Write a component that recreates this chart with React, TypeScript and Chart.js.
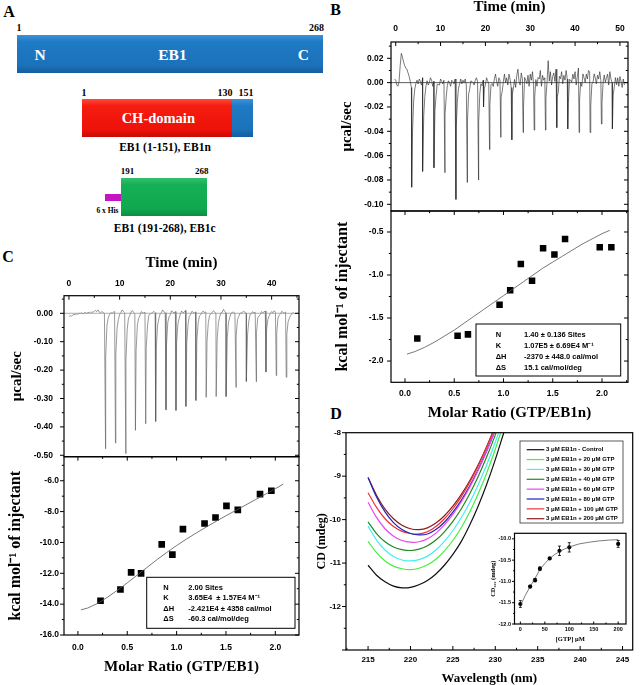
import React, { useEffect, useRef } from 'react';
import { Chart, registerables } from 'chart.js';
Chart.register(...registerables);

const SERIF = "'Liberation Serif', 'Times New Roman', serif";
const SANS = "'Liberation Sans', Arial, sans-serif";

// ---------- Panel B : raw ITC trace (GTP -> EB1n) ----------
const bNoiseT0 = -0.25;
const bNoiseDt = 0.25;
// baseline in 0.001 µcal/sec
const bNoise = [
  3, 2, -2, -3, 1, 14, 24, 21, 17, 14, 12, 11, 8, 5, 1, -4, -6, -3, -1, 1,
  2, -1, 3, 1, -2, 4, 2, -1, 1, 3, -2, 0, 4, 2, -3, 1, 5, -1, 2, 0,
  -2, 3, 1, -1, 2, 4, -2, 1, 3, 0, -3, 2, 1, -1, 3, 2, -2, 0, 1, 3,
  -1, 2, 0, 3, -2, 1, 2, -1, 3, 1, 0, -2, 2, 4, 1, -1, 2, 3, -1, 2,
  3, 1, 5, 2, -1, 4, 6, 2, -2, 3, 7, 1, -3, 4, 2, 6, -1, 3, 8, 0,
  4, -2, 7, 3, -4, 9, 2, 5, -3, 6, 11, 1, -2, 8, 3, -4, 10, 4, 0, 6,
  -3, 7, 2, 9, -2, 4, 8, -1, 5, 3, 10, -3, 6, 2, 4, 3, 6, 20, 2, 9,
  -2, 5, 8, 1, 11, 3, -3, 7, 4, 9, -1, 6, 2, 10, 3, -2, 8, 4, 1, 7,
  3, 9, -2, 5, 12, 2, 6, -1, 8, 4, 0, 7, 3, 10, 9, -2, 5, 2, 8, 4,
  -1, 6, 3, 9, 2, -3, 5, 8, 1, 4, 7, -2, 9, 3, 0, 5, 2, 6, -1, 4,
  -3, 5, 1, -4, 3, -2,
];
const bInjTimes = [3.56, 6.0, 8.53, 10.98, 13.43, 15.95, 18.48, 19.59, 20.93, 23.45, 25.9, 28.42, 30.88, 33.4, 35.92, 38.37, 40.9, 43.35, 45.87, 48.32];
const bInjPeaks = [-0.086, -0.073, -0.07, -0.074, -0.096, -0.082, -0.08, -0.02, -0.055, -0.045, -0.047, -0.041, -0.039, -0.039, -0.037, -0.038, -0.041, -0.041, -0.034, -0.038];
const bSpikeShape = [0.4, 0.14, 0.05, 0.02];

// ---------- Panel B : integrated heats ----------
const bRatio = [0.125, 0.534, 0.639, 0.96, 1.068, 1.176, 1.29, 1.402, 1.517, 1.625, 1.977, 2.095];
const bHeat = [-1.737, -1.706, -1.69, -1.347, -1.176, -0.871, -1.068, -0.689, -0.762, -0.581, -0.677, -0.677];
const bFitRatio = [0.02, 0.1, 0.2, 0.3, 0.4, 0.5, 0.6, 0.7, 0.8, 0.9, 1.0, 1.1, 1.2, 1.3, 1.4, 1.5, 1.6, 1.7, 1.8, 1.9, 2.0, 2.08];
const bFitHeat = [-1.92, -1.89, -1.84, -1.78, -1.71, -1.64, -1.56, -1.48, -1.4, -1.32, -1.24, -1.16, -1.08, -1.0, -0.92, -0.85, -0.78, -0.71, -0.64, -0.58, -0.52, -0.48];
const bParams = [
  ['N', '1.40 \u00b1 0.136 Sites'],
  ['K', '1.07E5 \u00b1 6.69E4 M\u207b\u00b9'],
  ['\u0394H', '-2370 \u00b1 448.0 cal/mol'],
  ['\u0394S', '15.1 cal/mol/deg'],
];

// ---------- Panel C : raw ITC trace (GTP -> EB1) ----------
const cNoiseT0 = 0;
const cNoiseDt = 0.25;
const cNoise = [
  -12, -8, -10, -6, -4, -5, -2, -3, 0, -1, 2, -2, 1, 3, 0, 2, 4, 1, 5, 3,
  8, 10, 6, 12, 4, 2, 6, 3, 0, 4, 15, 8, 5, 2, 0, 4, 6, 10, 3, 1,
  5, 3, 12, 6, 2, 0, 4, 8, 2, 5, 10, 3, -2, 4, 8, 2, 0, 6, 3, 1,
  4, 8, 2, 12, 5, 0, 3, 7, 2, 10, 4, 1, 6, 3, 12, 5, 2, 0, 8, 4,
  2, 9, 4, 1, 6, 11, 3, 0, 5, 8, 2, 4, 10, 3, 1, 6, 2, 7, 4, 0,
  5, 9, 3, 6, 1, 4, 8, 2, 5, 0, 3, 7, 4, 2, 9, 5, 1, 6, 3, 2,
  8, 4, 14, 6, 2, 12, 5, 1, 7, 3, 4, 0, 6, 9, 2, 5, 1, 4, 7, 3,
  0, 5, 2, 8, 3, 6, 1, 4, 9, 12, 3, 0, 6, 2, 5, 8, 10, 3, 1, 4,
  6, 2, 9, 4, 1, 10, 5, 2, 7, 3, 0, 5, 2, -3, -6, -4, 0, 2, -1,
];
const cInjTimes = [7.22, 9.18, 11.22, 13.12, 15.15, 17.11, 19.15, 21.12, 23.08, 25.05, 27.08, 29.05, 31.01, 32.98, 35.01, 36.98, 38.88, 40.91, 42.88];
const cInjPeaks = [-0.477, -0.457, -0.494, -0.412, -0.389, -0.381, -0.34, -0.342, -0.328, -0.307, -0.296, -0.293, -0.293, -0.261, -0.24, -0.241, -0.207, -0.219, -0.225];
const cSpikeShape = [0.33, 0.12, 0.05, 0.02];

// ---------- Panel C : integrated heats ----------
const cRatio = [0.229, 0.431, 0.539, 0.64, 0.849, 0.957, 1.064, 1.283, 1.394, 1.505, 1.62, 1.845, 1.96];
const cHeat = [-13.78, -13.05, -11.94, -12.0, -10.12, -10.79, -9.14, -8.77, -8.38, -7.63, -7.89, -6.87, -6.65];
const cFitRatio = [0.03, 0.1, 0.2, 0.3, 0.4, 0.5, 0.6, 0.7, 0.8, 0.9, 1.0, 1.1, 1.2, 1.3, 1.4, 1.5, 1.6, 1.7, 1.8, 1.9, 2.0, 2.08];
const cFitHeat = [-14.37, -14.25, -13.95, -13.55, -13.1, -12.62, -12.12, -11.62, -11.12, -10.65, -10.2, -9.78, -9.38, -9.0, -8.63, -8.27, -7.92, -7.57, -7.22, -6.87, -6.52, -6.22];
const cParams = [
  ['N', '2.00 Sites'],
  ['K', '3.65E4  \u00b1 1.57E4 M\u207b\u00b9'],
  ['\u0394H', '-2.421E4 \u00b1 4358 cal/mol'],
  ['\u0394S', '-60.3 cal/mol/deg'],
];

// ---------- Panel D : CD spectra ----------
const wavelengths = [215, 216, 217, 218, 219, 220, 221, 222, 223, 224, 225, 226, 227, 228, 229, 230, 231];
const cdControl = [-11.05, -11.28, -11.43, -11.53, -11.57, -11.56, -11.5, -11.4, -11.25, -11.05, -10.8, -10.5, -10.12, -9.68, -9.18, -8.62, -8.0];
const cdGtp20 = [-10.5, -10.76, -10.95, -11.07, -11.13, -11.15, -11.12, -11.04, -10.91, -10.72, -10.48, -10.18, -9.82, -9.4, -8.92, -8.38, -7.78];
const cdGtp30 = [-10.15, -10.47, -10.7, -10.85, -10.93, -10.95, -10.92, -10.84, -10.7, -10.5, -10.25, -9.95, -9.6, -9.19, -8.73, -8.22, -7.65];
const cdGtp40 = [-10.05, -10.32, -10.51, -10.63, -10.69, -10.71, -10.68, -10.6, -10.47, -10.28, -10.04, -9.75, -9.4, -9.0, -8.55, -8.05, -7.5];
const cdGtp60 = [-9.6, -9.95, -10.21, -10.38, -10.48, -10.52, -10.51, -10.44, -10.31, -10.12, -9.88, -9.59, -9.25, -8.86, -8.42, -7.94, -7.42];
const cdGtp80 = [-9.03, -9.48, -9.82, -10.07, -10.23, -10.32, -10.35, -10.33, -10.23, -10.06, -9.83, -9.55, -9.22, -8.84, -8.41, -7.94, -7.42];
const cdGtp100 = [-9.38, -9.72, -9.98, -10.16, -10.27, -10.32, -10.33, -10.28, -10.16, -9.98, -9.75, -9.47, -9.14, -8.76, -8.33, -7.86, -7.34];
const cdGtp200 = [-9.03, -9.44, -9.76, -9.98, -10.13, -10.21, -10.23, -10.19, -10.08, -9.91, -9.69, -9.42, -9.1, -8.73, -8.31, -7.84, -7.32];
const cdSeries = [cdControl, cdGtp20, cdGtp30, cdGtp40, cdGtp60, cdGtp80, cdGtp100, cdGtp200];
const cdLabels = [
  '3 \u03bcM EB1n - Control',
  '3 \u03bcM EB1n + 20 \u03bcM GTP',
  '3 \u03bcM EB1n + 30 \u03bcM GTP',
  '3 \u03bcM EB1n + 40 \u03bcM GTP',
  '3 \u03bcM EB1n + 60 \u03bcM GTP',
  '3 \u03bcM EB1n + 80 \u03bcM GTP',
  '3 \u03bcM EB1n + 100 \u03bcM GTP',
  '3 \u03bcM EB1n + 200 \u03bcM GTP',
];
const cdColors = ['#111111', '#44ee44', '#44eeee', '#1f8a1f', '#ee44ee', '#2222bb', '#ee3333', '#8b1c1c'];

// ---------- Panel D inset ----------
const gtpConc = [0, 20, 30, 40, 60, 80, 100, 200];
const cd222 = [-11.53, -11.12, -10.97, -10.7, -10.46, -10.28, -10.2, -10.12];
const cd222Err = [0.08, 0.03, 0.04, 0.04, 0.02, 0.11, 0.11, 0.08];
const insetFitConc = [0, 10, 20, 30, 40, 50, 60, 70, 80, 90, 100, 120, 140, 160, 180, 200];
const insetFitCd = [-11.57, -11.33, -11.12, -10.93, -10.72, -10.58, -10.46, -10.37, -10.3, -10.24, -10.19, -10.12, -10.08, -10.05, -10.03, -10.02];

// ---------- helpers ----------
type P = { x: number; y: number };
const pairs = (xs: number[], ys: number[]): P[] => xs.map((x, i) => ({ x, y: ys[i] }));

function buildTrace(t0: number, dt: number, noise: number[], unit: number, times: number[], peaks: number[], shape: number[]): P[] {
  const pts: P[] = [];
  noise.forEach((n, i) => {
    const t = t0 + i * dt;
    let y = n * unit;
    times.forEach((ts, k) => {
      const d = t - ts;
      if (d > 0) {
        const idx = Math.ceil(d / dt) - 1;
        if (idx < shape.length) y += peaks[k] * shape[idx];
      }
    });
    pts.push({ x: t, y });
  });
  times.forEach((ts, k) => pts.push({ x: ts, y: peaks[k] }));
  pts.sort((a, b) => a.x - b.x);
  return pts;
}

const framePlugin = {
  id: 'frame',
  afterDatasetsDraw(chart: any, _a: any, o: any) {
    if (!o || !o.on) return;
    const { ctx, chartArea: a } = chart;
    ctx.save();
    ctx.strokeStyle = '#000';
    ctx.lineWidth = 1.2;
    ctx.strokeRect(a.left, a.top, a.right - a.left, a.bottom - a.top);
    ctx.lineWidth = 1;
    const drawAxis = (scale: any, sides: string[], minorStep: number) => {
      const majors: number[] = scale.ticks.map((t: any) => t.value);
      const minors: number[] = [];
      if (minorStep) {
        const start = Math.ceil((scale.min - 1e-9) / minorStep);
        for (let k = start; k * minorStep <= scale.max + 1e-9; k++) {
          const v = k * minorStep;
          if (!majors.some((m) => Math.abs(m - v) < minorStep * 1e-3)) minors.push(v);
        }
      }
      const list: [number, number][] = [
        ...majors.map((v) => [v, o.major ?? 4] as [number, number]),
        ...minors.map((v) => [v, o.minor ?? 2.2] as [number, number]),
      ];
      for (const side of sides) {
        const [pos, dir] = side.split(':');
        for (const [v, len] of list) {
          const p = scale.getPixelForValue(v);
          ctx.beginPath();
          if (pos === 'left') {
            const s = dir === 'out' ? -1 : 1;
            ctx.moveTo(a.left, p);
            ctx.lineTo(a.left + s * len, p);
          } else if (pos === 'right') {
            const s = dir === 'out' ? 1 : -1;
            ctx.moveTo(a.right, p);
            ctx.lineTo(a.right + s * len, p);
          } else if (pos === 'bottom') {
            const s = dir === 'out' ? 1 : -1;
            ctx.moveTo(p, a.bottom);
            ctx.lineTo(p, a.bottom + s * len);
          } else {
            const s = dir === 'out' ? -1 : 1;
            ctx.moveTo(p, a.top);
            ctx.lineTo(p, a.top + s * len);
          }
          ctx.stroke();
        }
      }
    };
    drawAxis(chart.scales.x, o.xSides || [], o.xMinor);
    drawAxis(chart.scales.y, o.ySides || [], o.yMinor);
    ctx.restore();
  },
};

const paramBoxPlugin = {
  id: 'paramBox',
  afterDatasetsDraw(chart: any, _a: any, o: any) {
    if (!o || !o.rows) return;
    const { ctx, chartArea: a } = chart;
    ctx.save();
    ctx.fillStyle = '#fff';
    ctx.fillRect(a.left + o.l, a.top + o.t, o.r - o.l, o.b - o.t);
    ctx.strokeStyle = '#000';
    ctx.lineWidth = 1;
    ctx.strokeRect(a.left + o.l, a.top + o.t, o.r - o.l, o.b - o.t);
    ctx.fillStyle = '#000';
    ctx.font = `bold ${o.size}px ${SANS}`;
    ctx.textBaseline = 'middle';
    ctx.textAlign = 'left';
    o.rows.forEach((row: string[], i: number) => {
      const y = a.top + o.y0 + i * o.dy;
      ctx.fillText(row[0], a.left + o.c1, y);
      ctx.fillText(row[1], a.left + o.c2, y);
    });
    ctx.restore();
  },
};

const legendBoxPlugin = {
  id: 'legendBox',
  afterDatasetsDraw(chart: any, _a: any, o: any) {
    if (!o || !o.on) return;
    const { ctx, chartArea: a } = chart;
    ctx.save();
    ctx.fillStyle = '#fff';
    ctx.fillRect(a.left + o.l, a.top + o.t, o.r - o.l, o.b - o.t);
    ctx.strokeStyle = '#333';
    ctx.lineWidth = 0.8;
    ctx.strokeRect(a.left + o.l, a.top + o.t, o.r - o.l, o.b - o.t);
    ctx.font = `bold ${o.size}px ${SANS}`;
    ctx.textBaseline = 'middle';
    ctx.textAlign = 'left';
    chart.data.datasets.forEach((ds: any, i: number) => {
      const y = a.top + o.y0 + i * o.dy;
      ctx.strokeStyle = ds.borderColor;
      ctx.lineWidth = 1.2;
      ctx.beginPath();
      ctx.moveTo(a.left + o.lx0, y);
      ctx.lineTo(a.left + o.lx1, y);
      ctx.stroke();
      ctx.fillStyle = '#000';
      ctx.fillText(ds.label, a.left + o.tx, y);
    });
    ctx.restore();
  },
};

const errorBarPlugin = {
  id: 'errorBars',
  afterDatasetsDraw(chart: any) {
    const { ctx } = chart;
    const ys = chart.scales.y;
    chart.data.datasets.forEach((ds: any, i: number) => {
      if (!ds.errors) return;
      const meta = chart.getDatasetMeta(i);
      ctx.save();
      ctx.strokeStyle = '#000';
      ctx.lineWidth = 0.8;
      meta.data.forEach((pt: any, j: number) => {
        const v = ds.data[j].y;
        const e = ds.errors[j];
        const y1 = ys.getPixelForValue(v - e);
        const y2 = ys.getPixelForValue(v + e);
        ctx.beginPath();
        ctx.moveTo(pt.x, y1);
        ctx.lineTo(pt.x, y2);
        ctx.moveTo(pt.x - 1.5, y1);
        ctx.lineTo(pt.x + 1.5, y1);
        ctx.moveTo(pt.x - 1.5, y2);
        ctx.lineTo(pt.x + 1.5, y2);
        ctx.stroke();
      });
      ctx.restore();
    });
  },
};

type ScaleSpec = {
  axis: 'x' | 'y';
  position: string;
  min: number;
  max: number;
  step: number;
  fmt: (v: number) => string;
  fontSize: number;
  pad: number;
  size: number;
  title?: { text: string; size: number; pad: number };
};

function mkScale(p: ScaleSpec) {
  return {
    type: 'linear',
    position: p.position,
    min: p.min,
    max: p.max,
    grid: { display: false, drawTicks: false },
    border: { display: false },
    ticks: {
      stepSize: p.step,
      includeBounds: false,
      autoSkip: false,
      maxRotation: 0,
      minRotation: 0,
      padding: p.pad,
      color: '#000',
      font: { family: SANS, weight: 'bold', size: p.fontSize, lineHeight: 1 },
      callback: (v: any) => p.fmt(Number(v)),
    },
    title: p.title
      ? {
          display: true,
          text: p.title.text,
          color: '#000',
          font: { family: SERIF, weight: 'bold', size: p.title.size, lineHeight: 1 },
          padding: { top: p.title.pad, bottom: p.title.pad },
        }
      : { display: false },
    afterFit: (s: any) => {
      if (p.axis === 'x') s.height = p.size;
      else s.width = p.size;
      s.paddingLeft = 0;
      s.paddingRight = 0;
      s.paddingTop = 0;
      s.paddingBottom = 0;
    },
  };
}

const fx = (d: number) => (v: number) => (Math.abs(v) < 1e-9 ? 0 : v).toFixed(d);

function baseOptions(padding: any, scales: any, plugins: any) {
  return {
    animation: false,
    responsive: false,
    maintainAspectRatio: false,
    events: [],
    layout: { padding },
    scales,
    plugins: { legend: { display: false }, tooltip: { enabled: false }, ...plugins },
  };
}

const lineDs = (data: P[], color: string, width: number) => ({
  data,
  showLine: true,
  pointRadius: 0,
  borderColor: color,
  borderWidth: width,
  tension: 0,
  fill: false,
});

function ChartBox({ left, top, width, height, make }: { left: number; top: number; width: number; height: number; make: () => any }) {
  const ref = useRef<HTMLCanvasElement>(null);
  useEffect(() => {
    const c = new Chart(ref.current as HTMLCanvasElement, make());
    return () => c.destroy();
  }, []);
  return <canvas ref={ref} width={width} height={height} style={{ position: 'absolute', left, top, width, height }} />;
}

function T({ x, y, s, c = '#000', a = 'center', f = SERIF, children }: any) {
  const tx = a === 'center' ? '-50%' : a === 'right' ? '-100%' : '0';
  return (
    <div
      style={{
        position: 'absolute',
        left: x,
        top: y,
        transform: `translate(${tx}, -50%)`,
        fontFamily: f,
        fontWeight: 700,
        fontSize: s,
        lineHeight: 1,
        color: c,
        whiteSpace: 'nowrap',
      }}
    >
      {children}
    </div>
  );
}

const box = (l: number, t: number, w: number, h: number, bg: string): React.CSSProperties => ({
  position: 'absolute',
  left: l,
  top: t,
  width: w,
  height: h,
  background: bg,
});

// ---------- chart configs ----------
const TF = 8.5;

const makeBTop = () => ({
  type: 'scatter',
  data: {
    datasets: [
      lineDs([{ x: -1.05, y: 0 }, { x: 51.8, y: 0 }], '#333', 0.8),
      lineDs(buildTrace(bNoiseT0, bNoiseDt, bNoise, 0.001, bInjTimes, bInjPeaks, bSpikeShape), '#222', 0.6),
    ],
  },
  options: baseOptions({ left: 0, right: 14, top: 0, bottom: 4 }, {
    x: mkScale({ axis: 'x', position: 'top', min: -1.05, max: 51.8, step: 10, fmt: fx(0), fontSize: TF, pad: 8.8, size: 42, title: { text: 'Time (min)', size: 15, pad: 0 } }),
    y: mkScale({ axis: 'y', position: 'left', min: -0.1055, max: 0.0334, step: 0.02, fmt: fx(2), fontSize: TF, pad: 7.5, size: 61, title: { text: '\u03bccal/sec', size: 15, pad: 10 } }),
  }, { frame: { on: true, xSides: ['top:in'], ySides: ['left:out', 'right:in'], xMinor: 5, yMinor: 0.01 } }),
  plugins: [framePlugin],
});

const makeBBottom = () => ({
  type: 'scatter',
  data: {
    datasets: [
      lineDs(pairs(bFitRatio, bFitHeat), '#555', 0.8),
      { data: pairs(bRatio, bHeat), pointStyle: 'rect', pointRadius: 4.6, backgroundColor: '#000', borderWidth: 0 },
    ],
  },
  options: baseOptions({ left: 0, right: 14, top: 6, bottom: 0 }, {
    x: mkScale({ axis: 'x', position: 'bottom', min: -0.142, max: 2.264, step: 0.5, fmt: fx(1), fontSize: TF, pad: 6.8, size: 42.7, title: { text: 'Molar Ratio (GTP/EB1n)', size: 15, pad: 4.8 } }),
    y: mkScale({ axis: 'y', position: 'left', min: -2.247, max: -0.256, step: 0.5, fmt: fx(1), fontSize: TF, pad: 7.5, size: 61, title: { text: 'kcal mol\u207b\u00b9 of injectant', size: 16, pad: 5 } }),
  }, {
    frame: { on: true, xSides: ['bottom:in', 'top:in'], ySides: ['left:out', 'right:in'], xMinor: 0.25, yMinor: 0.25 },
    paramBox: { rows: bParams, l: 85, t: 113, r: 229.7, b: 165, c1: 104.7, c2: 133, y0: 123.5, dy: 11, size: 7.5 },
  }),
  plugins: [framePlugin, paramBoxPlugin],
});

const makeCTop = () => ({
  type: 'scatter',
  data: {
    datasets: [
      lineDs([{ x: -0.98, y: 0 }, { x: 45.4, y: 0 }], '#999', 0.8),
      lineDs(buildTrace(cNoiseT0, cNoiseDt, cNoise, 0.001, cInjTimes, cInjPeaks, cSpikeShape), '#555', 0.6),
    ],
  },
  options: baseOptions({ left: 0, right: 21, top: 0, bottom: 4.3 }, {
    x: mkScale({ axis: 'x', position: 'top', min: -0.98, max: 45.4, step: 10, fmt: fx(0), fontSize: TF, pad: 7.5, size: 45.7, title: { text: 'Time (min)', size: 15, pad: 5.8 } }),
    y: mkScale({ axis: 'y', position: 'left', min: -0.505, max: 0.062, step: 0.1, fmt: fx(2), fontSize: TF, pad: 11, size: 64, title: { text: '\u03bccal/sec', size: 15, pad: 10 } }),
  }, { frame: { on: true, xSides: ['top:in'], ySides: ['left:out', 'right:in'], xMinor: 5, yMinor: 0.05 } }),
  plugins: [framePlugin],
});

const makeCBottom = () => ({
  type: 'scatter',
  data: {
    datasets: [
      lineDs(pairs(cFitRatio, cFitHeat), '#555', 0.8),
      { data: pairs(cRatio, cHeat), pointStyle: 'rect', pointRadius: 4.7, backgroundColor: '#000', borderWidth: 0 },
    ],
  },
  options: baseOptions({ left: 0, right: 21, top: 5.7, bottom: 0 }, {
    x: mkScale({ axis: 'x', position: 'bottom', min: -0.141, max: 2.24, step: 0.5, fmt: fx(1), fontSize: TF, pad: 8.8, size: 50, title: { text: 'Molar Ratio (GTP/EB1)', size: 15, pad: 10.8 } }),
    y: mkScale({ axis: 'y', position: 'left', min: -16, max: -4.44, step: 2, fmt: fx(1), fontSize: TF, pad: 5, size: 64, title: { text: 'kcal mol\u207b\u00b9 of injectant', size: 16, pad: 8 } }),
  }, {
    frame: { on: true, xSides: ['bottom:in', 'top:in'], ySides: ['left:out', 'right:in'], xMinor: 0.25, yMinor: 1 },
    paramBox: { rows: cParams, l: 82.7, t: 120.6, r: 231, b: 171.6, c1: 99.3, c2: 124.3, y0: 131, dy: 10.5, size: 7.5 },
  }),
  plugins: [framePlugin, paramBoxPlugin],
});

const makeD = () => ({
  type: 'scatter',
  data: {
    datasets: cdSeries.map((s, i) => ({ ...lineDs(pairs(wavelengths, s), cdColors[i], 1.2), tension: 0.35, label: cdLabels[i] })),
  },
  options: baseOptions({ left: 0, right: 9.3, top: 7.7, bottom: 0 }, {
    x: mkScale({ axis: 'x', position: 'bottom', min: 212.4, max: 246.2, step: 5, fmt: fx(0), fontSize: 8, pad: 5.3, size: 35, title: { text: 'Wavelength (nm)', size: 13, pad: 0.2 } }),
    y: mkScale({ axis: 'y', position: 'left', min: -13, max: -8, step: 1, fmt: (v: number) => (v <= -12.5 ? '' : v.toFixed(0)), fontSize: 8, pad: 5, size: 36, title: { text: 'CD (mdeg)', size: 12, pad: 6 } }),
  }, {
    frame: { on: true, xSides: ['bottom:in'], ySides: ['left:out'], xMinor: 2.5, yMinor: 0.5 },
    legendBox: { on: true, l: 174, t: 8.3, r: 277, b: 90.3, lx0: 180.7, lx1: 198.3, tx: 200, y0: 17, dy: 9.86, size: 6 },
  }),
  plugins: [framePlugin, legendBoxPlugin],
});

const makeInset = () => ({
  type: 'scatter',
  data: {
    datasets: [
      lineDs(pairs(insetFitConc, insetFitCd), '#444', 0.7),
      { data: pairs(gtpConc, cd222), errors: cd222Err, pointStyle: 'circle', pointRadius: 2.1, backgroundColor: '#000', borderWidth: 0 },
    ],
  },
  options: baseOptions({ left: 0, right: 2.5, top: 5.3, bottom: 0 }, {
    x: mkScale({ axis: 'x', position: 'bottom', min: -12, max: 216, step: 50, fmt: fx(0), fontSize: 5.5, pad: 2.5, size: 28, title: { text: '[GTP] \u03bcM', size: 6.5, pad: 9 } }),
    y: mkScale({ axis: 'y', position: 'left', min: -12.0, max: -9.87, step: 0.5, fmt: fx(1), fontSize: 5.5, pad: 3.5, size: 28.5, title: { text: 'CD\u2082\u2082\u2082 (mdeg)', size: 6.5, pad: 3.7 } }),
  }, { frame: { on: true, xSides: ['bottom:in'], ySides: ['left:out'], xMinor: 25, yMinor: 0.25, major: 2.5, minor: 1.5 } }),
  plugins: [framePlugin, errorBarPlugin],
});

export default function App() {
  const blueGrad = 'linear-gradient(to bottom, #3a92da 0%, #1f7ac4 18%, #1b72ba 80%, #135e9e 100%)';
  const redGrad = 'linear-gradient(to bottom, #ff4a3a 0%, #f51c10 18%, #ee1208 80%, #c80a05 100%)';
  const greenGrad = 'linear-gradient(to bottom, #34c06a 0%, #14b055 18%, #10a84f 80%, #0b8e40 100%)';
  return (
    <div style={{ position: 'absolute', left: 0, top: 0, width: 642, height: 685, background: '#fff', overflow: 'hidden' }}>
      {/* Panel A */}
      <T x={9} y={12} s={16}>A</T>
      <T x={19} y={28} s={10}>1</T>
      <T x={316.5} y={28} s={10}>268</T>
      <div style={box(16.7, 35, 306.6, 38.3, blueGrad)} />
      <T x={40} y={55} s={15.5} c="#fff">N</T>
      <T x={172.5} y={55} s={15.5} c="#fff">EB1</T>
      <T x={303.3} y={55} s={15.5} c="#fff">C</T>

      <T x={84} y={93} s={10}>1</T>
      <T x={225} y={93} s={10}>130</T>
      <T x={246} y={93} s={10}>151</T>
      <div style={box(81.7, 99.3, 150, 38, redGrad)} />
      <div style={box(231.7, 99.3, 21, 38, blueGrad)} />
      <T x={158.3} y={118.3} s={14.5} c="#fff">CH-domain</T>
      <T x={165} y={148.3} s={11.5}>EB1 (1-151), EB1n</T>

      <T x={127.5} y={171} s={9}>191</T>
      <T x={201.7} y={171} s={9}>268</T>
      <div style={box(105, 194.3, 15.7, 6.7, '#c414c4')} />
      <div style={box(120.7, 178.3, 86.6, 37.7, greenGrad)} />
      <T x={107.5} y={210.7} s={7.5}>6 x His</T>
      <T x={164.7} y={229.3} s={11.5}>EB1 (191-268), EB1c</T>

      {/* Panel letters */}
      <T x={335.5} y={10} s={16}>B</T>
      <T x={8} y={257} s={16}>C</T>
      <T x={336} y={414} s={16}>D</T>

      <ChartBox left={330} top={0} width={312} height={215} make={makeBTop} />
      <ChartBox left={330} top={205} width={312} height={220} make={makeBBottom} />
      <ChartBox left={0} top={250} width={320} height={211} make={makeCTop} />
      <ChartBox left={0} top={451} width={320} height={234} make={makeCBottom} />
      <ChartBox left={310} top={425} width={332} height={260} make={makeD} />
      <ChartBox left={486} top={528} width={144} height={124} make={makeInset} />
    </div>
  );
}
